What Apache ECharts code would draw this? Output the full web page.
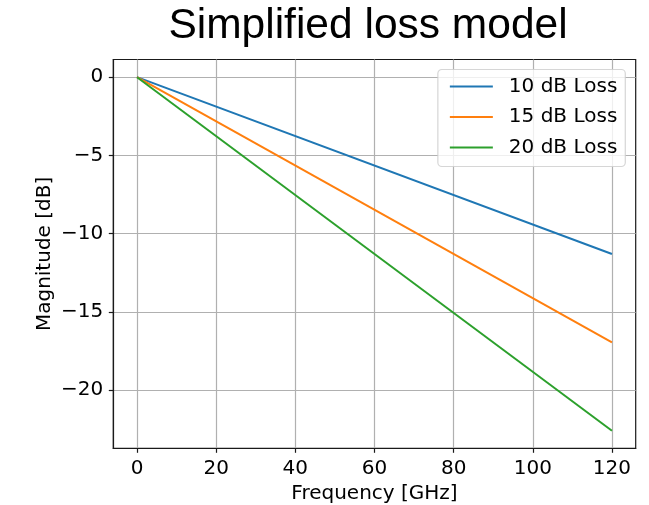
<!DOCTYPE html>
<html>
<head>
<meta charset="utf-8">
<script src="https://cdn.jsdelivr.net/npm/echarts@6/dist/echarts.min.js"></script>
<style>html,body{margin:0;padding:0;background:#fff}#c{width:649px;height:505px}</style>
</head>
<body>
<div id="c"></div>
<script>
const freqs = [0, 120];
const loss10 = [0, -11.3];
const loss15 = [0, -16.95];
const loss20 = [0, -22.6];
const seriesNames = ['10 dB Loss', '15 dB Loss', '20 dB Loss'];
const xTicks = [0, 20, 40, 60, 80, 100, 120];
const yTicks = [-20, -15, -10, -5, 0];

const colors = ['#1f77b4', '#ff7f0e', '#2ca02c'];
const tickFont = 'DejaVu Sans';
function pts(ys) { return freqs.map((f, i) => [f, ys[i]]); }

const chart = echarts.init(document.getElementById('c'), null, {renderer: 'canvas'});
chart.setOption({
  animation: false,
  color: colors,
  title: {
    text: 'Simplified loss model',
    left: 363, top: 0, textAlign: 'center',
    textStyle: {fontFamily: 'Liberation Sans', fontSize: 42.5, fontWeight: 'normal', color: '#000'}
  },
  grid: {
    left: 113.3, top: 59.5, right: 13.3, bottom: 56.7,
    outerBoundsMode: 'none', containLabel: false,
    show: true, borderColor: '#1a1a1a', borderWidth: 1.2, backgroundColor: '#fff'
  },
  legend: {
    orient: 'vertical', right: 649 - 625.3, top: 69.5,
    icon: 'rect', itemWidth: 43, itemHeight: 2, itemGap: 10.5,
    padding: [7, 8, 9, 12],
    backgroundColor: 'rgba(255,255,255,0.8)',
    borderColor: 'rgba(204,204,204,0.8)', borderWidth: 1.2, borderRadius: 4,
    textStyle: {fontFamily: tickFont, fontSize: 20, color: '#000', lineHeight: 20, padding: [0, 0, 0, 11]},
    data: seriesNames
  },
  xAxis: {
    type: 'value', min: -6, max: 126,
    name: 'Frequency [GHz]', nameLocation: 'middle', nameGap: 35, nameMoveOverlap: false,
    nameTextStyle: {fontFamily: tickFont, fontSize: 20, color: '#000'},
    axisLine: {show: true, onZero: false, lineStyle: {color: '#1a1a1a', width: 1.2}},
    axisTick: {show: true, length: 4.5, customValues: xTicks, lineStyle: {color: '#1a1a1a', width: 1.2}},
    axisLabel: {customValues: xTicks, margin: 10, fontFamily: tickFont, fontSize: 20, color: '#000'},
    splitLine: {show: true, lineStyle: {color: '#b0b0b0', width: 1.2}}
  },
  yAxis: {
    type: 'value', min: -23.72, max: 1.13,
    name: 'Magnitude [dB]', nameLocation: 'middle', nameGap: 59, nameRotate: 90, nameMoveOverlap: false,
    nameTextStyle: {fontFamily: tickFont, fontSize: 20, color: '#000'},
    axisLine: {show: true, onZero: false, lineStyle: {color: '#1a1a1a', width: 1.2}},
    axisTick: {show: true, length: 4.5, customValues: yTicks, lineStyle: {color: '#1a1a1a', width: 1.2}},
    axisLabel: {customValues: yTicks, margin: 10, fontFamily: tickFont, fontSize: 20, color: '#000',
      formatter: v => String(v).replace('-', '\u2212')},
    splitLine: {show: true, lineStyle: {color: '#b0b0b0', width: 1.2}}
  },
  series: [
    {name: seriesNames[0], type: 'line', data: pts(loss10), symbol: 'none', lineStyle: {width: 2}},
    {name: seriesNames[1], type: 'line', data: pts(loss15), symbol: 'none', lineStyle: {width: 2}},
    {name: seriesNames[2], type: 'line', data: pts(loss20), symbol: 'none', lineStyle: {width: 2}}
  ]
});
</script>
</body>
</html>
